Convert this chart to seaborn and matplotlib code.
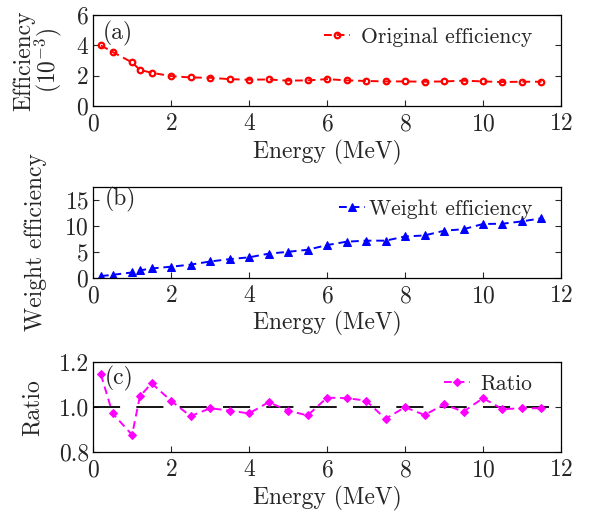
import numpy as np
import pandas as pd
import matplotlib
matplotlib.use("Agg")
import matplotlib.pyplot as plt
import seaborn as sns

energy = [0.2, 0.5, 1.0, 1.2, 1.5, 2.0, 2.5, 3.0, 3.5, 4.0, 4.5, 5.0, 5.5,
          6.0, 6.5, 7.0, 7.5, 8.0, 8.5, 9.0, 9.5, 10.0, 10.5, 11.0, 11.5]
orig_eff = [4.0, 3.57, 2.88, 2.39, 2.2, 1.98, 1.89, 1.87, 1.78, 1.74, 1.76,
            1.68, 1.7, 1.78, 1.7, 1.66, 1.63, 1.63, 1.61, 1.63, 1.68, 1.63,
            1.59, 1.61, 1.61]
weight_eff = [0.4, 0.64, 1.1, 1.5, 1.86, 2.2, 2.6, 3.2, 3.65, 4.0, 4.7, 5.06,
              5.45, 6.35, 7.0, 7.2, 7.2, 8.0, 8.2, 9.1, 9.4, 10.4, 10.45,
              10.9, 11.5]
ratio = [1.145, 0.972, 0.877, 1.048, 1.106, 1.028, 0.96, 0.995, 0.985, 0.972,
         1.022, 0.985, 0.963, 1.042, 1.04, 1.029, 0.948, 1.0, 0.965, 1.012,
         0.98, 1.04, 0.991, 0.995, 0.995]

df = pd.DataFrame({"energy": energy, "orig": orig_eff,
                   "weight": weight_eff, "ratio": ratio})

sns.set_style("ticks")
plt.rcParams["font.family"] = ["cmr10"]
plt.rcParams["mathtext.fontset"] = "cm"
plt.rcParams["axes.formatter.use_mathtext"] = True
plt.rcParams["axes.unicode_minus"] = False
plt.rcParams["xtick.direction"] = "in"
plt.rcParams["ytick.direction"] = "in"

fig = plt.figure(figsize=(5.93, 5.18), dpi=100)
left, width = 0.157, 0.789
ax_a = fig.add_axes([left, 0.795, width, 0.176])
ax_b = fig.add_axes([left, 0.463, width, 0.176])
ax_c = fig.add_axes([left, 0.127, width, 0.174])

fs = 17
lfs = 15.5

def style(ax):
    ax.set_xlim(0, 12)
    ax.set_xticks(range(0, 13, 2))
    ax.tick_params(labelsize=fs, right=True, length=4, width=0.8)
    ax.tick_params(axis="x", pad=5)
    ax.tick_params(axis="y", pad=3)
    ax.set_xlabel("Energy (MeV)", fontsize=fs, labelpad=3)
    for s in ax.spines.values():
        s.set_linewidth(0.9)
        s.set_color("black")

# (a)
sns.lineplot(data=df, x="energy", y="orig", ax=ax_a, color="red",
             linestyle=(0, (4, 2.5)), linewidth=1.4, marker="o", markersize=4,
             markerfacecolor="none", markeredgecolor="red", markeredgewidth=1.6,
             label="Original efficiency")
ax_a.set_ylim(0, 6)
ax_a.set_yticks([0, 2, 4, 6])
ax_a.set_ylabel("Efficiency\n($10^{-3}$)", fontsize=fs, linespacing=0.9)
ax_a.yaxis.set_label_coords(-0.062, 0.5)
ax_a.text(0.26, 4.8, "(a)", fontsize=fs, va="center")
style(ax_a)
ax_a.legend(loc="upper right", bbox_to_anchor=(0.98, 1.08), frameon=False,
            fontsize=lfs, handlelength=1.2, handletextpad=0.5)

# (b)
sns.lineplot(data=df, x="energy", y="weight", ax=ax_b, color="blue",
             linestyle=(0, (4, 2.5)), linewidth=1.4, marker="^", markersize=6,
             markeredgecolor="blue", label="Weight efficiency")
ax_b.set_ylim(0, 17.5)
ax_b.set_yticks([0, 5, 10, 15])
ax_b.set_ylabel("Weight efficiency", fontsize=fs)
ax_b.yaxis.set_label_coords(-0.099, 0.4)
ax_b.text(0.3, 15.2, "(b)", fontsize=fs, va="center")
style(ax_b)
ax_b.legend(loc="upper right", bbox_to_anchor=(0.98, 1.08), frameon=False,
            fontsize=lfs, handlelength=1.2, handletextpad=0.2)

# (c)
ax_c.plot([0, 11.7], [1.0, 1.0], color="black", linewidth=1.3,
          linestyle=(0, (15, 9)))
sns.lineplot(data=df, x="energy", y="ratio", ax=ax_c, color="magenta",
             linestyle=(0, (4, 2.5)), linewidth=1.4, marker="D", markersize=4.5,
             markeredgecolor="magenta", label="Ratio")
ax_c.set_ylim(0.8, 1.2)
ax_c.set_yticks([0.8, 1.0, 1.2])
ax_c.set_yticklabels(["0.8", "1.0", "1.2"])
ax_c.set_ylabel("Ratio", fontsize=fs)
ax_c.yaxis.set_label_coords(-0.106, 0.5)
ax_c.text(0.31, 1.129, "(c)", fontsize=fs, va="center")
style(ax_c)
ax_c.legend(loc="upper right", bbox_to_anchor=(0.98, 1.08), frameon=False,
            fontsize=lfs, handlelength=1.2, handletextpad=0.5)

fig.savefig("out.png", dpi=100)
